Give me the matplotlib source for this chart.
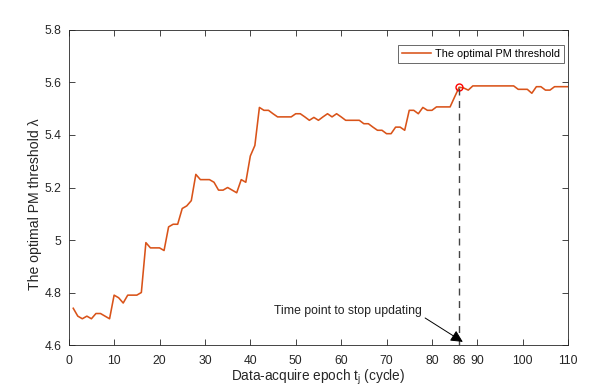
import matplotlib
matplotlib.use("Agg")
import matplotlib.pyplot as plt
import numpy as np

plt.rcParams["font.family"] = ["Liberation Sans", "DejaVu Sans"]
plt.rcParams["mathtext.fontset"] = "custom"
plt.rcParams["mathtext.rm"] = "Liberation Sans"

# Optimal PM threshold per data-acquire epoch
epochs = np.arange(1, 111)
threshold = [
    4.74, 4.71, 4.70, 4.71, 4.70, 4.72, 4.72, 4.71, 4.70, 4.79,
    4.78, 4.76, 4.79, 4.79, 4.79, 4.80, 4.99, 4.97, 4.97, 4.97,
    4.96, 5.05, 5.06, 5.06, 5.12, 5.13, 5.15, 5.25, 5.23, 5.23,
    5.23, 5.22, 5.19, 5.19, 5.20, 5.19, 5.18, 5.23, 5.22, 5.32,
    5.36, 5.505, 5.494, 5.494, 5.481, 5.469, 5.469, 5.469, 5.469, 5.481,
    5.481, 5.469, 5.456, 5.467, 5.456, 5.469, 5.481, 5.469, 5.481, 5.469,
    5.456, 5.456, 5.456, 5.456, 5.443, 5.443, 5.430, 5.418, 5.418, 5.405,
    5.405, 5.430, 5.430, 5.418, 5.494, 5.494, 5.481, 5.505, 5.494, 5.494,
    5.507, 5.507, 5.507, 5.507, 5.545, 5.582, 5.579, 5.571, 5.587, 5.587,
    5.587, 5.587, 5.587, 5.587, 5.587, 5.587, 5.587, 5.587, 5.574, 5.574,
    5.574, 5.559, 5.584, 5.584, 5.571, 5.571, 5.584, 5.584, 5.584, 5.584,
]
stop_epoch = 86
xticks = [0, 10, 20, 30, 40, 50, 60, 70, 80, 86, 90, 100, 110]
yticks = [4.6, 4.8, 5.0, 5.2, 5.4, 5.6, 5.8]
ytick_labels = ["4.6", "4.8", "5", "5.2", "5.4", "5.6", "5.8"]

axis_gray = "#262626"
line_color = "#D95319"

fig = plt.figure(figsize=(5.99, 3.91), dpi=100)
ax = fig.add_axes([0.1147, 0.1176, 0.8338, 0.8057])

ax.plot(epochs, threshold, color=line_color, lw=1.15, label="The optimal PM threshold")

stop_val = threshold[stop_epoch - 1]
ax.plot([stop_epoch], [stop_val], "o", mfc="none", mec="red", ms=5, mew=1.0)
ax.plot([stop_epoch, stop_epoch], [4.6, stop_val], ls=(0, (5, 4)), color="#444444", lw=1.0)

ax.annotate("", xy=(86.8, 4.612), xytext=(78.5, 4.703),
            arrowprops=dict(arrowstyle="-|>", color="black", lw=0.7,
                            mutation_scale=18, shrinkA=0, shrinkB=0))
ax.text(77.8, 4.73, "Time point to stop updating", ha="right", va="center",
        fontsize=8.8, color="#222222")

ax.set_xlim(0, 110)
ax.set_ylim(4.6, 5.8)
ax.set_xticks(xticks)
ax.set_yticks(yticks)
ax.set_yticklabels(ytick_labels)
ax.tick_params(direction="in", length=4, width=0.6, top=True, right=True,
               labelsize=8.7, colors=axis_gray)
ax.tick_params(axis="x", pad=7)
ax.tick_params(axis="y", pad=5.5)
for s in ax.spines.values():
    s.set_color(axis_gray)
    s.set_linewidth(0.6)

ax.set_xlabel(r"Data-acquire epoch t$_\mathregular{j}$ (cycle)", fontsize=9.8,
              color=axis_gray, labelpad=1)
ax.set_ylabel("The optimal PM threshold λ", fontsize=10.1, color=axis_gray, va="center")
ax.yaxis.set_label_coords(-0.068, 0.448)

leg = ax.legend(loc="upper right", bbox_to_anchor=(564 / 599, 1 - 45 / 391),
                bbox_transform=fig.transFigure, borderaxespad=0, fontsize=7.8,
                frameon=True, fancybox=False, handlelength=2.7, handletextpad=0.4,
                borderpad=0.35)
leg.get_frame().set_edgecolor(axis_gray)
leg.get_frame().set_linewidth(0.6)

fig.savefig("out.png", dpi=100)
